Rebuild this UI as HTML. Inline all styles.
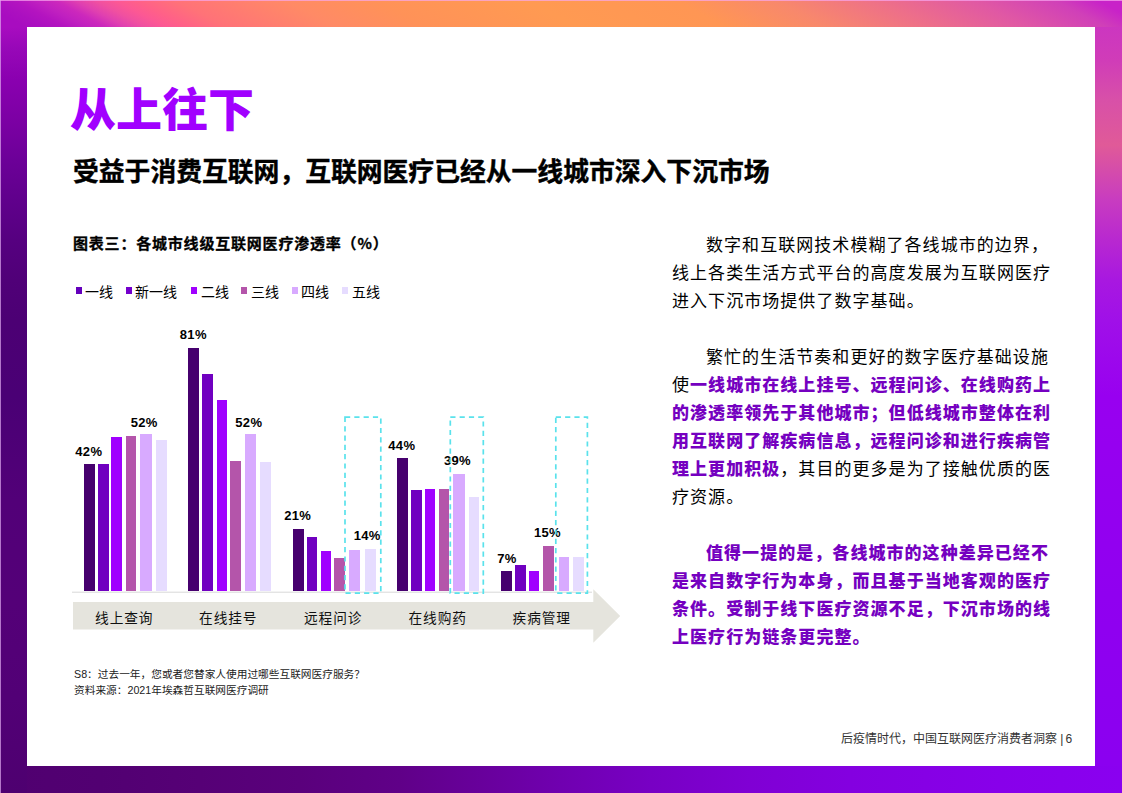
<!DOCTYPE html>
<html lang="zh-CN">
<head>
<meta charset="utf-8">
<style>
*{margin:0;padding:0;box-sizing:border-box}
html,body{width:1122px;height:793px;overflow:hidden;background:#fff}
body{position:relative;font-family:"Liberation Sans","Noto Sans CJK SC",sans-serif;color:#000}
.abs{position:absolute}
#frame{position:absolute;left:0;top:0;width:1122px;height:793px}
.title{left:70px;top:76px;font-family:"Noto Sans CJK SC",sans-serif;font-weight:900;font-size:46px;line-height:60px;color:#a100ff;white-space:nowrap}
.sub{left:73px;top:153px;font-family:"Noto Sans CJK SC",sans-serif;font-weight:700;font-size:25.8px;-webkit-text-stroke:0.4px #000;line-height:34px;white-space:nowrap}
.ctitle{left:73px;top:231.5px;-webkit-text-stroke:0.3px #000;font-family:"Noto Sans CJK SC",sans-serif;font-weight:700;font-size:15px;letter-spacing:0.8px;line-height:22px;white-space:nowrap}
.leg{top:281.4px;font-size:14px;line-height:20px;white-space:nowrap;font-family:"Noto Sans CJK SC",sans-serif}
.sq{position:absolute;width:6px;height:7px}
.bar{position:absolute;width:10.5px}
.lbl{position:absolute;font-family:"Liberation Sans",sans-serif;font-weight:700;font-size:13px;letter-spacing:0.3px;line-height:16px;white-space:nowrap}
.cat{position:absolute;top:606.3px;font-family:"Noto Sans CJK SC",sans-serif;font-size:13.7px;letter-spacing:0.9px;line-height:22px;white-space:nowrap;color:#111}
.body{left:672px;top:230.2px;width:390px;font-family:"Noto Sans CJK SC",sans-serif;font-size:17px;line-height:28px;letter-spacing:1.05px}
.body p{text-indent:2em}
.body b{color:#7500c0;font-weight:900}
.note{left:74px;top:665.5px;font-family:"Liberation Sans","Noto Sans CJK SC",sans-serif;font-size:10.7px;line-height:16.6px;color:#222;white-space:nowrap}
.foot{left:841px;top:730px;font-family:"Liberation Sans","Noto Sans CJK SC",sans-serif;font-size:12px;line-height:18px;color:#333;white-space:nowrap}
</style>
</head>
<body>
<svg id="frame" width="1122" height="793" viewBox="0 0 1122 793">
  <defs>
    <linearGradient id="gt" x1="-14" y1="26.55" x2="247" y2="-469" gradientUnits="userSpaceOnUse">
      <stop offset="0.0321" stop-color="#a80cc0"/>
      <stop offset="0.0489" stop-color="#ac10c0"/>
      <stop offset="0.0655" stop-color="#b414c0"/>
      <stop offset="0.0821" stop-color="#c020c0"/>
      <stop offset="0.0987" stop-color="#cc28bc"/>
      <stop offset="0.1154" stop-color="#e040b0"/>
      <stop offset="0.1321" stop-color="#f050a0"/>
      <stop offset="0.1487" stop-color="#fc5894"/>
      <stop offset="0.1654" stop-color="#ff6088"/>
      <stop offset="0.1987" stop-color="#ff7278"/>
      <stop offset="0.2902" stop-color="#ff8a66"/>
      <stop offset="0.3652" stop-color="#ff9258"/>
      <stop offset="0.4900" stop-color="#ff9a52"/>
      <stop offset="0.6148" stop-color="#ff9654"/>
      <stop offset="0.6980" stop-color="#f8886c"/>
      <stop offset="0.7812" stop-color="#ee7088"/>
      <stop offset="0.8645" stop-color="#e058a4"/>
      <stop offset="0.9311" stop-color="#d040b8"/>
      <stop offset="0.9661" stop-color="#c822c8"/>
    </linearGradient>
    
    <linearGradient id="gr" x1="0" y1="0" x2="0" y2="793" gradientUnits="userSpaceOnUse">
      <stop offset="0.034" stop-color="#cc36c0"/>
      <stop offset="0.076" stop-color="#d03cb8"/>
      <stop offset="0.126" stop-color="#d850a8"/>
      <stop offset="0.183" stop-color="#e05a98"/>
      <stop offset="0.252" stop-color="#c83cc0"/>
      <stop offset="0.303" stop-color="#b828d0"/>
      <stop offset="0.353" stop-color="#a818e0"/>
      <stop offset="0.404" stop-color="#a010e8"/>
      <stop offset="0.5" stop-color="#9800f0"/>
      <stop offset="0.75" stop-color="#9000f0"/>
      <stop offset="1" stop-color="#8a00f0"/>
    </linearGradient>
    <linearGradient id="gb" x1="0" y1="0" x2="1122" y2="0" gradientUnits="userSpaceOnUse">
      <stop offset="0" stop-color="#500070"/>
      <stop offset="0.089" stop-color="#520072"/>
      <stop offset="0.178" stop-color="#560076"/>
      <stop offset="0.267" stop-color="#5a007c"/>
      <stop offset="0.356" stop-color="#600088"/>
      <stop offset="0.446" stop-color="#6a00a0"/>
      <stop offset="0.5" stop-color="#7000b0"/>
      <stop offset="0.58" stop-color="#7800c4"/>
      <stop offset="0.668" stop-color="#8000d4"/>
      <stop offset="0.758" stop-color="#8400e0"/>
      <stop offset="0.891" stop-color="#8800ea"/>
      <stop offset="1" stop-color="#8a00f0"/>
    </linearGradient>
    <linearGradient id="gl" x1="0" y1="0" x2="0" y2="793" gradientUnits="userSpaceOnUse">
      <stop offset="0.034" stop-color="#a80cc0"/>
      <stop offset="0.06" stop-color="#9808b8"/>
      <stop offset="0.1" stop-color="#8a00b0"/>
      <stop offset="0.151" stop-color="#7c00a4"/>
      <stop offset="0.202" stop-color="#6c0098"/>
      <stop offset="0.252" stop-color="#60008c"/>
      <stop offset="0.303" stop-color="#560080"/>
      <stop offset="0.353" stop-color="#500078"/>
      <stop offset="0.404" stop-color="#4c0074"/>
      <stop offset="0.5" stop-color="#4a0075"/>
      <stop offset="0.63" stop-color="#520078"/>
      <stop offset="0.76" stop-color="#540078"/>
      <stop offset="0.88" stop-color="#520076"/>
      <stop offset="1" stop-color="#4e0070"/>
    </linearGradient>
  </defs>
  <rect x="0" y="0" width="1122" height="27" fill="url(#gt)"/>
  <rect x="0" y="766" width="1122" height="27" fill="url(#gb)"/>
  <rect x="0" y="27" width="27" height="766" fill="url(#gl)"/>
  <rect x="1095" y="27" width="27" height="739" fill="url(#gr)"/>
  <rect x="0" y="0" width="1122" height="1" fill="#f8a8f0" opacity="0.7"/>
  <rect x="0" y="0" width="1" height="793" fill="#e0a8f0" opacity="0.7"/>
  <rect x="27.4" y="27.4" width="1067.3" height="738.4" fill="#fff"/>
</svg>

<div class="abs title">从上往下</div>
<div class="abs sub">受益于消费互联网，互联网医疗已经从一线城市深入下沉市场</div>

<div class="abs ctitle">图表三：各城市线级互联网医疗渗透率（%）</div>

<div class="abs leg" style="left:0;width:400px;height:20px">
  <span class="sq" style="left:75.7px;top:6px;background:#6400bc"></span><span class="abs" style="left:85px">一线</span>
  <span class="sq" style="left:126px;top:6px;background:#7400cc"></span><span class="abs" style="left:135px">新一线</span>
  <span class="sq" style="left:191px;top:6px;background:#a000ff"></span><span class="abs" style="left:201px">二线</span>
  <span class="sq" style="left:241px;top:6px;background:#b455aa"></span><span class="abs" style="left:251px">三线</span>
  <span class="sq" style="left:291.6px;top:6px;background:#d8aaff"></span><span class="abs" style="left:301px">四线</span>
  <span class="sq" style="left:342px;top:6px;background:#e6dcff"></span><span class="abs" style="left:352px">五线</span>
</div>

<div id="chart"></div>

<svg class="abs" style="left:0;top:0" width="1122" height="793" viewBox="0 0 1122 793">
  <line x1="72" y1="592.2" x2="592" y2="592.2" stroke="#d8d8d8" stroke-width="1"/>
  <polygon points="73,602.1 593.3,602.1 593.3,589.2 620.2,615.9 593.3,642.7 593.3,629.5 73,629.5" fill="#e5e4dd"/>
</svg>

<!--BARS-->
<div class="bar" style="left:84px;top:463.7px;width:10.5px;height:127.3px;background:#46006e"></div>
<div class="bar" style="left:98px;top:463.7px;width:10.5px;height:127.3px;background:#7000c0"></div>
<div class="bar" style="left:111.3px;top:437px;width:10.5px;height:154.0px;background:#a000ff"></div>
<div class="bar" style="left:125.9px;top:435.8px;width:10.5px;height:155.2px;background:#b455aa"></div>
<div class="bar" style="left:140.1px;top:434px;width:11.5px;height:157.0px;background:#d8aaff"></div>
<div class="bar" style="left:156.1px;top:439.6px;width:10.5px;height:151.4px;background:#e6dcff"></div>
<div class="bar" style="left:188px;top:347.6px;width:10.5px;height:243.4px;background:#46006e"></div>
<div class="bar" style="left:202.2px;top:374.1px;width:10.5px;height:216.9px;background:#7000c0"></div>
<div class="bar" style="left:216.5px;top:399.7px;width:10.5px;height:191.3px;background:#a000ff"></div>
<div class="bar" style="left:230px;top:460.9px;width:10.5px;height:130.1px;background:#b455aa"></div>
<div class="bar" style="left:245.2px;top:434px;width:10.9px;height:157.0px;background:#d8aaff"></div>
<div class="bar" style="left:260px;top:462.1px;width:10.5px;height:128.9px;background:#e6dcff"></div>
<div class="bar" style="left:293.4px;top:528.9px;width:10.5px;height:62.1px;background:#46006e"></div>
<div class="bar" style="left:306.7px;top:536.9px;width:10.5px;height:54.1px;background:#7000c0"></div>
<div class="bar" style="left:320.8px;top:551.2px;width:10.5px;height:39.8px;background:#a000ff"></div>
<div class="bar" style="left:334.4px;top:557.7px;width:10.5px;height:33.3px;background:#b455aa"></div>
<div class="bar" style="left:349.3px;top:549.7px;width:10.6px;height:41.3px;background:#d8aaff"></div>
<div class="bar" style="left:365px;top:548.6px;width:10.5px;height:42.4px;background:#e6dcff"></div>
<div class="bar" style="left:397px;top:457.9px;width:10.5px;height:133.1px;background:#46006e"></div>
<div class="bar" style="left:411.2px;top:489.8px;width:10.5px;height:101.2px;background:#7000c0"></div>
<div class="bar" style="left:424.9px;top:489px;width:10.5px;height:102.0px;background:#a000ff"></div>
<div class="bar" style="left:438.9px;top:489px;width:10.5px;height:102.0px;background:#b455aa"></div>
<div class="bar" style="left:453.4px;top:474.2px;width:11.5px;height:116.8px;background:#d8aaff"></div>
<div class="bar" style="left:468.8px;top:497px;width:10.5px;height:94.0px;background:#e6dcff"></div>
<div class="bar" style="left:501px;top:571.1px;width:10.5px;height:19.9px;background:#46006e"></div>
<div class="bar" style="left:515.3px;top:564.6px;width:10.5px;height:26.4px;background:#7000c0"></div>
<div class="bar" style="left:528.7px;top:571.1px;width:10.5px;height:19.9px;background:#a000ff"></div>
<div class="bar" style="left:543px;top:545.7px;width:10.5px;height:45.3px;background:#b455aa"></div>
<div class="bar" style="left:558.7px;top:556.6px;width:10.8px;height:34.4px;background:#d8aaff"></div>
<div class="bar" style="left:573.2px;top:556.6px;width:10.5px;height:34.4px;background:#e6dcff"></div>
<div class="lbl" style="left:88.8px;top:443.7px;transform:translateX(-50%)">42%</div>
<div class="lbl" style="left:144.2px;top:414.7px;transform:translateX(-50%)">52%</div>
<div class="lbl" style="left:193.3px;top:326.9px;transform:translateX(-50%)">81%</div>
<div class="lbl" style="left:248.8px;top:414.8px;transform:translateX(-50%)">52%</div>
<div class="lbl" style="left:297.7px;top:508.1px;transform:translateX(-50%)">21%</div>
<div class="lbl" style="left:367.1px;top:527.5px;transform:translateX(-50%)">14%</div>
<div class="lbl" style="left:401.8px;top:437.7px;transform:translateX(-50%)">44%</div>
<div class="lbl" style="left:457.4px;top:453.1px;transform:translateX(-50%)">39%</div>
<div class="lbl" style="left:506.9px;top:550.9px;transform:translateX(-50%)">7%</div>
<div class="lbl" style="left:547.5px;top:524.7px;transform:translateX(-50%)">15%</div>
<svg class="abs" style="left:0;top:0" width="1122" height="793" viewBox="0 0 1122 793">
<rect x="345" y="417.2" width="35.8" height="175.9" fill="none" stroke="#5ae2ec" stroke-width="1.7" stroke-dasharray="5.2 4.1"/>
<rect x="450.3" y="417.2" width="33.0" height="175.9" fill="none" stroke="#5ae2ec" stroke-width="1.7" stroke-dasharray="5.2 4.1"/>
<rect x="555.8" y="417.2" width="31.6" height="175.9" fill="none" stroke="#5ae2ec" stroke-width="1.7" stroke-dasharray="5.2 4.1"/>
</svg>
<div class="cat" style="left:95.1px">线上查询</div>
<div class="cat" style="left:199.1px">在线挂号</div>
<div class="cat" style="left:304.0px">远程问诊</div>
<div class="cat" style="left:408.5px">在线购药</div>
<div class="cat" style="left:512.6px">疾病管理</div>
<!--/BARS-->

<div class="abs body">
<p>数字和互联网技术模糊了各线城市的边界，线上各类生活方式平台的高度发展为互联网医疗进入下沉市场提供了数字基础。</p>
<p>&nbsp;</p>
<p>繁忙的生活节奏和更好的数字医疗基础设施使<b>一线城市在线上挂号、远程问诊、在线购药上的渗透率领先于其他城市；但低线城市整体在利用互联网了解疾病信息，远程问诊和进行疾病管理上更加积极</b>，其目的更多是为了接触优质的医疗资源。</p>
<p>&nbsp;</p>
<p><b>值得一提的是，各线城市的这种差异已经不是来自数字行为本身，而且基于当地客观的医疗条件。受制于线下医疗资源不足，下沉市场的线上医疗行为链条更完整。</b></p>
</div>

<div class="abs note">S8：过去一年，您或者您替家人使用过哪些互联网医疗服务？<br>资料来源：2021年埃森哲互联网医疗调研</div>
<div class="abs foot">后疫情时代，中国互联网医疗消费者洞察 |<span style="margin-left:-1.4px"> 6</span></div>
</body>
</html>
